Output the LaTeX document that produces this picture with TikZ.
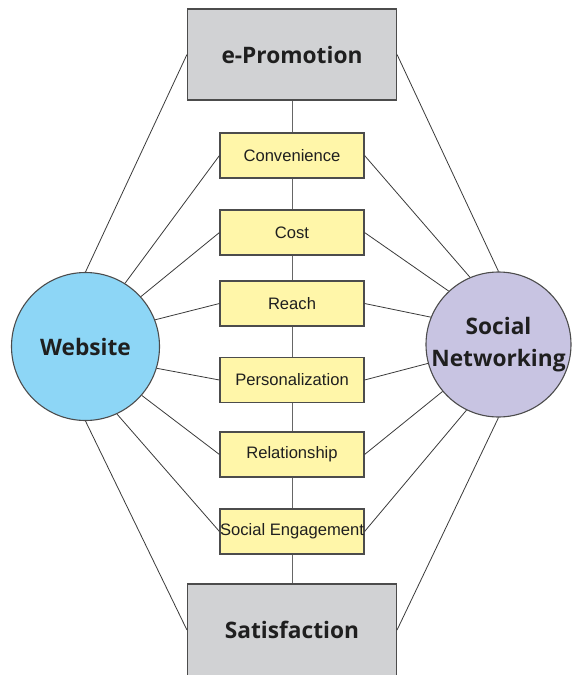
\documentclass[tikz,border=0pt]{standalone}
\usepackage{fontspec}
\setmainfont{Liberation Sans}
\newfontfamily\bigfont{Open Sans}
\definecolor{boxgray}{HTML}{D1D2D4}
\definecolor{boxyellow}{HTML}{FFF6A9}
\definecolor{webblue}{HTML}{8DD6F6}
\definecolor{snpurple}{HTML}{C8C4E2}
\definecolor{edge}{HTML}{3A3A3A}
\begin{document}
\begin{tikzpicture}[x=1pt,y=-1pt,
  link/.style={draw=edge, line width=0.8pt},
  chainline/.style={draw=black!60, line width=1pt},
  bigbox/.style={draw=black!70, line width=1.1pt, fill=boxgray, minimum width=209pt, minimum height=91pt, inner sep=0pt, font=\bigfont\bfseries\fontsize{22.7}{27}\selectfont, text=black!88},
  smallbox/.style={draw=black!70, line width=1.1pt, fill=boxyellow, minimum width=144pt, minimum height=45pt, inner sep=0pt, font=\fontsize{16.6}{20}\selectfont, text=black!88},
  circ/.style={circle, draw=black!70, line width=1.1pt, inner sep=0pt, align=center, font=\bigfont\bfseries\fontsize{22.7}{32}\selectfont, text=black!88}
]
\useasboundingbox (0,0) rectangle (571,675);
\node[bigbox] (top) at (292,54.5) {e-Promotion};
\node[bigbox, minimum height=92pt] (bot) at (292,630) {Satisfaction};
\node[smallbox] (c1) at (292,155.5) {Convenience};
\node[smallbox] (c2) at (292,232.5) {Cost};
\node[smallbox] (c3) at (292,303.5) {Reach};
\node[smallbox] (c4) at (292,380) {Personalization};
\node[smallbox] (c5) at (292,454.5) {Relationship};
\node[smallbox] (c6) at (292,531.5) {Social Engagement};
\node[circ, fill=webblue, minimum size=148pt] (web) at (85.5,346.5) {Website};
\node[circ, fill=snpurple, minimum size=145pt] (sn) at (498.5,344.5) {Social\\Networking};
\draw[chainline] (top) -- (c1) -- (c2) -- (c3) -- (c4) -- (c5) -- (c6) -- (bot);
\draw[link] (top.west) -- (web.north);
\draw[link] (c1.west) -- (web.58);
\draw[link] (c2.west) -- (web.42);
\draw[link] (c3.west) -- (web.21);
\draw[link] (c4.west) -- (web.-17);
\draw[link] (c5.west) -- (web.-41);
\draw[link] (c6.west) -- (web.-65);
\draw[link] (bot.west) -- (web.south);
\draw[link] (top.east) -- (sn.north);
\draw[link] (c1.east) -- (sn.113);
\draw[link] (c2.east) -- (sn.133);
\draw[link] (c3.east) -- (sn.158);
\draw[link] (c4.east) -- (sn.195);
\draw[link] (c5.east) -- (sn.220);
\draw[link] (c6.east) -- (sn.244);
\draw[link] (bot.east) -- (sn.south);
\end{tikzpicture}
\end{document}
